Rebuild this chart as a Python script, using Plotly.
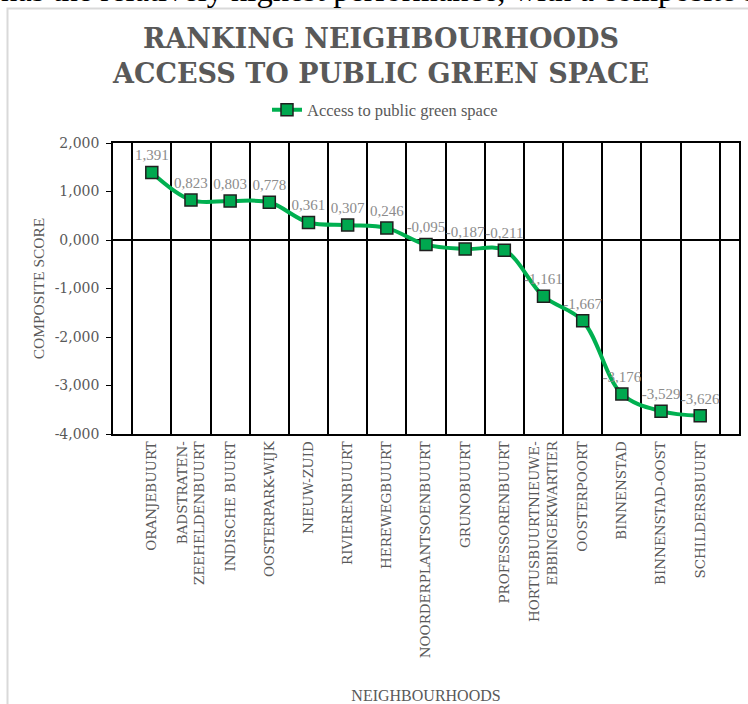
import plotly.graph_objects as go

neighbourhoods = [
    "ORANJEBUURT", "BADSTRATEN-<br>ZEEHELDENBUURT", "INDISCHE BUURT", "OOSTERPARK-WIJK",
    "NIEUW-ZUID", "RIVIERENBUURT", "HEREWEGBUURT", "NOORDERPLANTSOENBUURT",
    "GRUNOBUURT", "PROFESSORENBUURT", "HORTUSBUURTNIEUWE-<br>EBBINGEKWARTIER",
    "OOSTERPOORT", "BINNENSTAD", "BINNENSTAD-OOST", "SCHILDERSBUURT",
]
scores = [1.391, 0.823, 0.803, 0.778, 0.361, 0.307, 0.246, -0.095, -0.187, -0.211,
          -1.161, -1.667, -3.176, -3.529, -3.626]
y_ticks = [2, 1, 0, -1, -2, -3, -4]

def fmt(v):
    return f"{v:.3f}".replace(".", ",")

labels = [fmt(v) for v in scores]
y_tick_text = [fmt(v) for v in y_ticks]

W, H = 748, 704
L, R, T, B = 113, 9, 143, 270
pw, ph = W - L - R, H - T - B

def px_x(x):
    return (x - L) / pw

def px_y(y):
    return (H - B - y) / ph

fig = go.Figure()
fig.add_trace(go.Scatter(
    x=neighbourhoods, y=scores, mode="lines+markers+text",
    name="Access to public green space",
    line=dict(color="#00B050", width=4, shape="spline", smoothing=1.0),
    marker=dict(symbol="square", size=12, color="#00A84F",
                line=dict(color="#1F1F1F", width=1.5)),
    text=labels, textposition="top center",
    textfont=dict(family="Liberation Serif", size=15, color="#8C8C8C"),
    cliponaxis=False,
))

fig.update_layout(
    width=W, height=H,
    margin=dict(l=L, r=R, t=T, b=B, autoexpand=False),
    paper_bgcolor="white", plot_bgcolor="white",
    title=dict(text="RANKING NEIGHBOURHOODS<br>ACCESS TO PUBLIC GREEN SPACE",
               x=381 / W, xanchor="center", y=1 - 48 / H, yanchor="middle",
               font=dict(family="DejaVu Serif", size=27, color="#595959", weight="bold")),
    showlegend=True,
    legend=dict(orientation="h", x=px_x(385), xanchor="center", y=px_y(110), yanchor="middle",
                font=dict(family="Liberation Serif", size=16.5, color="#595959"),
                bgcolor="rgba(0,0,0,0)"),
    font=dict(family="Liberation Serif", color="#595959"),
)

fig.update_xaxes(
    type="category", tickangle=-90, tickson="boundaries",
    showgrid=True, gridcolor="black", gridwidth=1.5,
    showline=True, linecolor="black", linewidth=1.5, mirror=True,
    ticks="", tickfont=dict(family="DejaVu Serif", size=13.5, color="#595959"),
    title=dict(text="NEIGHBOURHOODS", standoff=40,
               font=dict(family="Liberation Serif", size=16, color="#595959")),
    automargin=False,
)
fig.update_yaxes(
    range=[-4, 2], tickvals=y_ticks, ticktext=y_tick_text,
    showgrid=False, zeroline=True, zerolinecolor="black", zerolinewidth=1.5,
    showline=True, linecolor="black", linewidth=1.5, mirror=True,
    ticks="outside", ticklen=5, tickcolor="black", tickwidth=1,
    ticklabelstandoff=4,
    tickfont=dict(family="DejaVu Serif", size=14, color="#595959"),
    title=dict(text="COMPOSITE SCORE", standoff=6,
               font=dict(family="Liberation Serif", size=15.5, color="#595959")),
    automargin=False,
)

# light grey frame of the embedded chart
fig.add_shape(type="rect", xref="paper", yref="paper",
              x0=px_x(7.5), x1=px_x(W + 20), y0=px_y(8.5), y1=px_y(H + 20),
              line=dict(color="#D9D9D9", width=2), fillcolor="rgba(0,0,0,0)", layer="below")

# cut-off line of surrounding document text
fig.add_annotation(text="has the relatively highest performance, with a composite score of",
                   xref="paper", yref="paper", x=px_x(-1), xanchor="left",
                   y=px_y(9.5), yanchor="bottom", showarrow=False,
                   font=dict(family="Liberation Serif", size=32.5, color="black"))

fig.write_html("out.html")
